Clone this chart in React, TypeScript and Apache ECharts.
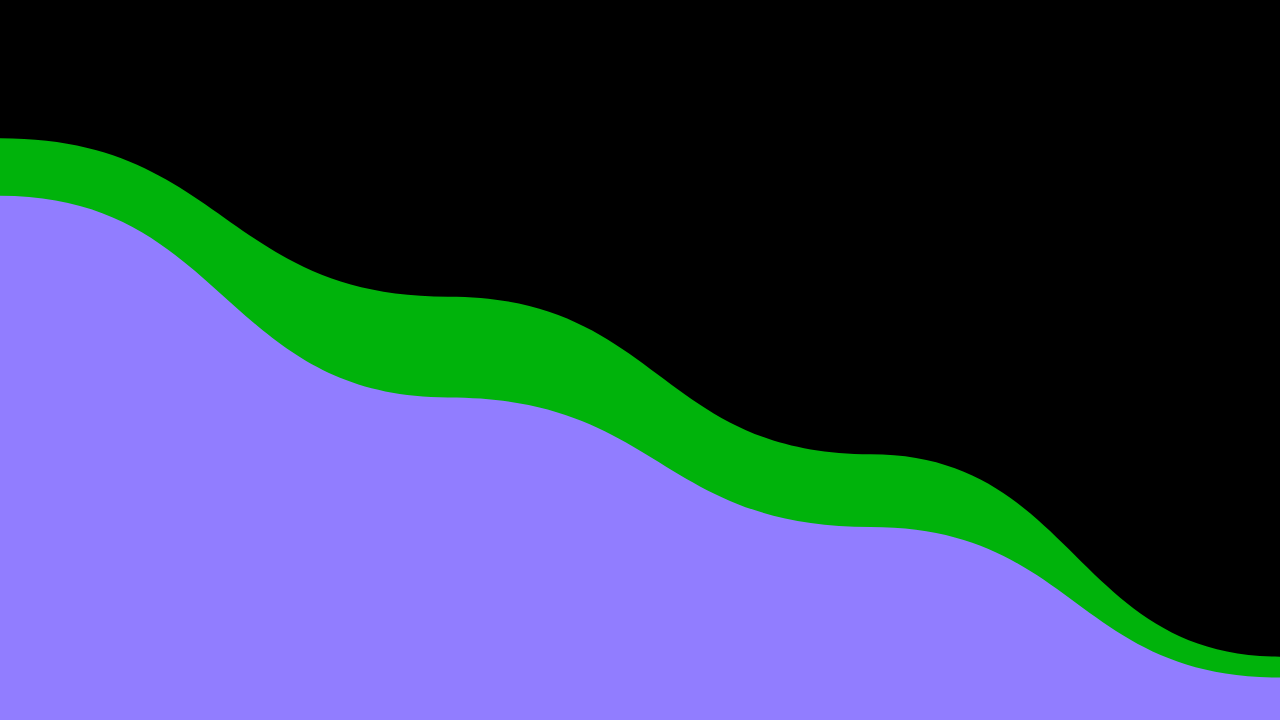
import * as React from "react";
import * as echarts from "echarts";

const xValues = [0, 35, 68, 100];
const baseValues = [72.8, 44.8, 26.8, 5.9];
const topValues = [8.0, 14.0, 10.1, 2.9];

const colors = {
  background: "#000000",
  base: "#917dff",
  top: "#00b30b",
};

// bump-style curve (flat tangent at every point) closed down to the x axis
function areaPath(api: any, ys: number[]) {
  const pts = xValues.map((x, i) => api.coord([x, ys[i]]));
  const bottom = api.coord([0, 0])[1];
  let d = `M${pts[0][0]},${bottom} L${pts[0][0]},${pts[0][1]}`;
  for (let i = 1; i < pts.length; i++) {
    const [x0, y0] = pts[i - 1];
    const [x1, y1] = pts[i];
    const mx = (x0 + x1) / 2;
    d += ` C${mx},${y0} ${mx},${y1} ${x1},${y1}`;
  }
  d += ` L${pts[pts.length - 1][0]},${bottom} Z`;
  return d;
}

export default function App() {
  const chartRef = React.useRef<HTMLDivElement | null>(null);

  React.useEffect(() => {
    if (!chartRef.current) return;
    const chart = echarts.init(chartRef.current, undefined, { renderer: "svg" });

    const totals = baseValues.map((v, i) => v + topValues[i]);

    const makeSeries = (name: string, values: number[], color: string, z: number) => ({
      name,
      type: "custom",
      z,
      data: xValues.map((x, i) => [x, values[i]]),
      renderItem: (params: any, api: any) => {
        if (params.dataIndex !== 0) return null;
        return {
          type: "path",
          shape: { pathData: areaPath(api, values) },
          style: { fill: color },
        };
      },
    });

    chart.setOption({
      animation: false,
      backgroundColor: colors.background,
      grid: { left: 0, right: 0, top: 0, bottom: 0 },
      xAxis: { type: "value", min: 0, max: 100, show: false },
      yAxis: { type: "value", min: 0, max: 100, show: false },
      series: [
        makeSeries("Top", totals, colors.top, 1),
        makeSeries("Base", baseValues, colors.base, 2),
      ],
    });

    const handleResize = () => chart.resize();
    window.addEventListener("resize", handleResize);
    return () => {
      window.removeEventListener("resize", handleResize);
      chart.dispose();
    };
  }, []);

  return (
    <div
      ref={chartRef}
      style={{ position: "fixed", left: 0, top: 0, width: 1280, height: 720 }}
    />
  );
}
